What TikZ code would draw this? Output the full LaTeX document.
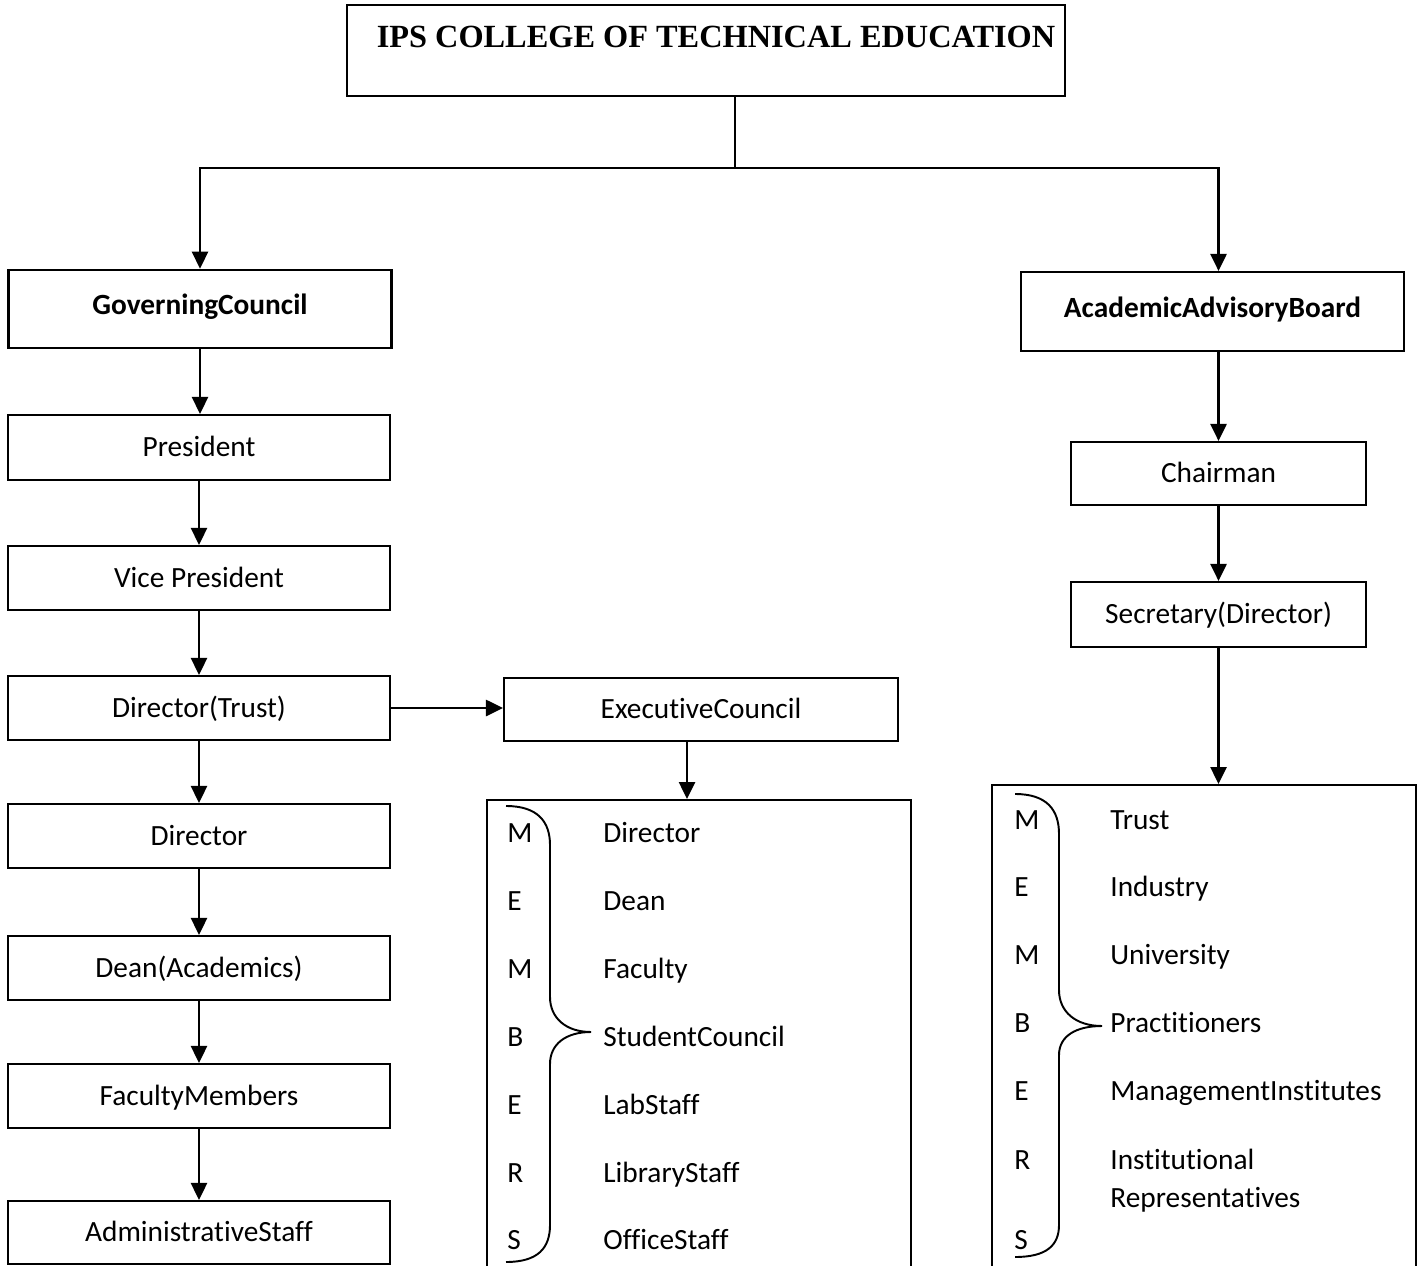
\documentclass[tikz,border=0pt]{standalone}
\usepackage{fontspec}
\setmainfont[Ligatures=NoCommon]{Carlito}
\newfontfamily\titlefont{Liberation Serif}
\usetikzlibrary{arrows.meta}

\tikzset{
    unitbox/.style={draw,line width=1.2pt,inner sep=0pt,text height=12pt,text depth=1.5pt,font=\fontsize{16.7}{20}\selectfont},
    leftbox/.style={unitbox,minimum width=7.64cm,minimum height=1.28cm},
    headbox/.style={unitbox,minimum width=7.66cm,minimum height=1.57cm,text height=1.6ex,text depth=0.25ex,font=\bfseries\fontsize{16.7}{20}\selectfont},
    listbox/.style={draw,line width=1.2pt,minimum width=8.48cm,inner sep=0pt},
    member/.style={anchor=base west,inner sep=0pt,font=\fontsize{16.7}{20}\selectfont},
    membrace/.style={line width=1.1pt},
    arr/.style={-{Triangle[length=0.34cm,width=0.32cm]},line width=1.5pt}
}

\begin{document}
\begin{tikzpicture}[x=0.02cm,y=-0.02cm]
    \useasboundingbox (0,0) rectangle (1425,1266);
    \clip (0,0) rectangle (1425,1266);

    % heading
    \node [ unitbox,minimum width=14.36cm,minimum height=1.82cm,text height=0.86cm,text depth=0.96cm,font=\titlefont\bfseries\fontsize{18.4}{22}\selectfont ] (college) at (706,50.5) {\hspace*{0.4cm}IPS COLLEGE OF TECHNICAL EDUCATION};
    \coordinate (fork) at (735,168);

    % governing council side
    \node [ headbox ] (govcouncil) at (200,309) {GoverningCouncil};
    \node [ leftbox,minimum height=1.3cm ] (president) at (199,447.5) {President};
    \node [ leftbox ] (vicepres) at (199,578) {Vice President};
    \node [ leftbox ] (dirtrust) at (199,708) {Director(Trust)};
    \node [ leftbox ] (director) at (199,836) {Director};
    \node [ leftbox ] (deanacad) at (199,968) {Dean(Academics)};
    \node [ leftbox ] (facmembers) at (199,1096) {FacultyMembers};
    \node [ leftbox,minimum height=1.26cm ] (adminstaff) at (199,1232.5) {AdministrativeStaff};

    % executive council
    \node [ unitbox,minimum width=7.88cm,minimum height=1.26cm ] (execcouncil) at (701,709.5) {ExecutiveCouncil};
    \node [ listbox,minimum height=10cm ] (members1) at (699,1050) {};
    \node [ member ] (m1a) at (507,842) {M};   \node [ member ] (e1a) at (603,842) {Director};
    \node [ member ] (m1b) at (507,910) {E};   \node [ member ] (e1b) at (603,910) {Dean};
    \node [ member ] (m1c) at (507,978) {M};   \node [ member ] (e1c) at (603,978) {Faculty};
    \node [ member ] (m1d) at (507,1046) {B};  \node [ member ] (e1d) at (603,1046) {StudentCouncil};
    \node [ member ] (m1e) at (507,1114) {E};  \node [ member ] (e1e) at (603,1114) {LabStaff};
    \node [ member ] (m1f) at (507,1182) {R};  \node [ member ] (e1f) at (603,1182) {LibraryStaff};
    \node [ member ] (m1g) at (507,1249) {S};  \node [ member ] (e1g) at (603,1249) {OfficeStaff};
    \draw [ membrace ] (506,806) .. controls (538,806) and (550,822) .. (550,845) -- (550,997)
        .. controls (550,1018) and (566,1032) .. (591,1032) .. controls (566,1032) and (550,1044) .. (550,1064)
        -- (550,1225) .. controls (550,1248) and (538,1262) .. (506,1262);

    % academic advisory board side
    \node [ headbox,minimum height=1.58cm ] (advboard) at (1212.5,311.5) {AcademicAdvisoryBoard};
    \node [ unitbox,minimum width=5.9cm,minimum height=1.26cm ] (chairman) at (1218.5,473.5) {Chairman};
    \node [ unitbox,minimum width=5.9cm,minimum height=1.3cm ] (secretary) at (1218.5,614.5) {Secretary(Director)};
    \node [ listbox,minimum height=10.3cm ] (members2) at (1204,1042.5) {};
    \node [ member ] (m2a) at (1014,829) {M};   \node [ member ] (a2a) at (1110,829) {Trust};
    \node [ member ] (m2b) at (1014,896) {E};   \node [ member ] (a2b) at (1110,896) {Industry};
    \node [ member ] (m2c) at (1014,964) {M};   \node [ member ] (a2c) at (1110,964) {University};
    \node [ member ] (m2d) at (1014,1032) {B};  \node [ member ] (a2d) at (1110,1032) {Practitioners};
    \node [ member ] (m2e) at (1014,1100) {E};  \node [ member ] (a2e) at (1110,1100) {ManagementInstitutes};
    \node [ member ] (m2f) at (1014,1169) {R};  \node [ member ] (a2f) at (1110,1169) {Institutional};
    \node [ member ] (a2g) at (1110,1207) {Representatives};
    \node [ member ] (m2g) at (1014,1249) {S};
    \draw [ membrace ] (1015,794) .. controls (1047,794) and (1059,810) .. (1059,834) -- (1059,990)
        .. controls (1059,1012) and (1076,1026) .. (1102,1026) .. controls (1076,1026) and (1059,1036) .. (1059,1055)
        -- (1059,1225) .. controls (1059,1245) and (1047,1257) .. (1015,1257);

    % connectors
    \draw [ line width=1.5pt ] (college.south -| fork) -- (fork);
    \draw [ arr ] (fork) -| (govcouncil.north);
    \draw [ arr ] (fork) -| (advboard.north -| chairman);
    \draw [ arr ] (govcouncil.south) -- (govcouncil.south |- president.north);
    \draw [ arr ] (president.south) -- (vicepres.north);
    \draw [ arr ] (vicepres.south) -- (dirtrust.north);
    \draw [ arr ] (dirtrust.south) -- (director.north);
    \draw [ arr ] (director.south) -- (deanacad.north);
    \draw [ arr ] (deanacad.south) -- (facmembers.north);
    \draw [ arr ] (facmembers.south) -- (adminstaff.north);
    \draw [ arr ] (dirtrust.east) -- (dirtrust.east -| execcouncil.west);
    \draw [ arr ] ([xshift=-0.28cm]execcouncil.south) -- ([xshift=-0.28cm]execcouncil.south |- members1.north);
    \draw [ arr ] (advboard.south -| chairman) -- (chairman.north);
    \draw [ arr ] (chairman.south) -- (secretary.north);
    \draw [ arr ] (secretary.south) -- (secretary.south |- members2.north);
\end{tikzpicture}
\end{document}
